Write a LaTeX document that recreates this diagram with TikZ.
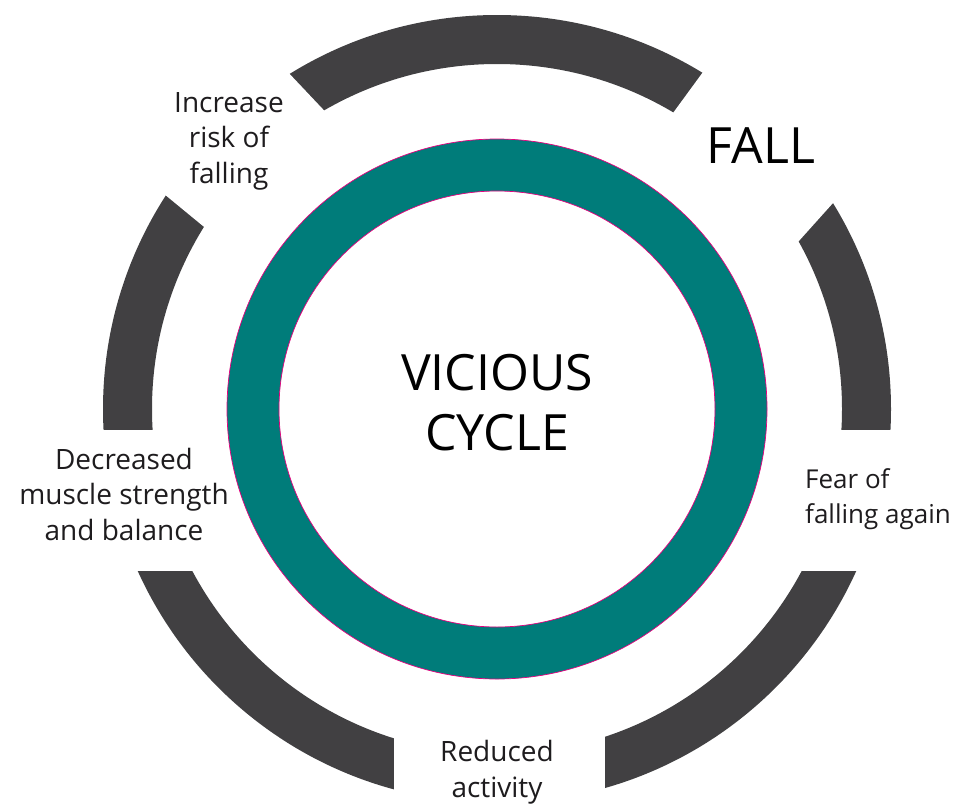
\documentclass[tikz,border=0pt]{standalone}
\usepackage{fontspec}
\setmainfont{Open Sans}
\definecolor{ringteal}{RGB}{0,124,122}
\definecolor{arcgray}{RGB}{65,64,66}
\definecolor{ringedge}{RGB}{230,0,126}
\definecolor{textdark}{RGB}{30,28,30}
\tikzset{
  lbl/.style={font=\fontsize{28}{35.5}\selectfont, align=center, inner sep=0pt, text=textdark},
  title/.style={font=\fontsize{50}{60}\selectfont, align=center, inner sep=0pt, text=black},
  gap/.style={fill=white, draw=none}
}
\begin{document}
\begin{tikzpicture}[x=1pt,y=-1pt]
\useasboundingbox (0,0) rectangle (953,804);
\coordinate (c) at (497,409);
% outer dark ring
\fill[arcgray, even odd rule] (c) circle[radius=394pt] (c) circle[radius=345pt];
% gaps
\fill[gap] (141,175) -- (237,254) -- (352,140) -- (268,51) -- cycle;
\fill[gap] (733,31) -- (643,154) -- (763,281) -- (868,164) -- cycle;
\fill[gap] (85,430) rectangle (212,571);
\fill[gap] (782,430) rectangle (910,571);
\fill[gap] (394,700) rectangle (605,810);
% teal ring
\fill[ringteal, even odd rule] (c) circle[radius=270pt] (c) circle[radius=218pt];
\draw[ringedge, line width=0.7pt] (c) circle[radius=270pt] (c) circle[radius=218pt];
% texts (anchor=base is the baseline of the last line)
\node[title, anchor=base] (vc) at (497,450) {VICIOUS\\CYCLE};
\node[title, anchor=base] (fall) at (761,163) {FALL};
\node[lbl, anchor=base] (inc) at (229,183) {Increase\\risk of\\falling};
\node[lbl, anchor=base] (dec) at (124,540) {Decreased\\muscle strength\\and balance};
\node[lbl, font=\fontsize{26}{35}\selectfont, anchor=base west, align=left] (fear) at (805,523) {Fear of\\falling again};
\node[lbl, anchor=base] (red) at (497,797) {Reduced\\activity};
\end{tikzpicture}
\end{document}
